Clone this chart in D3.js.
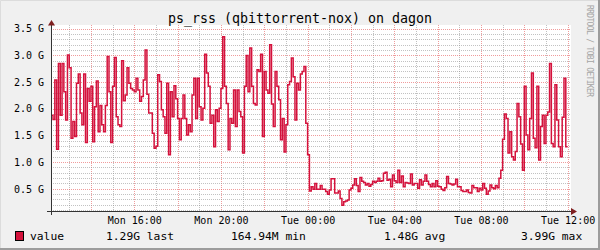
<!DOCTYPE html>
<html>
<head>
<meta charset="utf-8">
<script src="https://cdn.jsdelivr.net/npm/d3@7"></script>
<style>
  body { margin: 0; background: #f0f0f0; }
  svg { display: block; }
  text { font-family: "DejaVu Sans Mono", monospace; fill: #000; }
</style>
</head>
<body>
<svg id="chart" width="600" height="250"></svg>
<script>
// ---- data ----
const title = "ps_rss (qbittorrent-nox) on dagon";
const seriesName = "value";
const firstSample = new Date(2024, 0, 15, 12, 10); // Mon 12:10
const stepMinutes = 5;

// resident memory, in G, one value per 5 minutes
const values = [
  1.88, 1.80, 2.54, 1.24, 2.85, 1.88, 2.85, 2.32, 1.79, 3.01, 2.77, 1.45, 1.76, 1.48, 2.48,
  2.65, 1.92, 1.70, 2.65, 1.37, 2.38, 2.14, 2.42, 1.38, 2.04, 2.52, 1.57, 2.06, 1.70, 1.57,
  2.06, 2.98, 2.32, 1.37, 2.42, 2.96, 1.85, 1.70, 1.67, 2.90, 2.15, 2.26, 2.77, 2.48, 2.38,
  2.35, 2.32, 2.57, 2.35, 2.14, 2.23, 2.54, 3.10, 2.27, 1.92, 1.92, 1.54, 1.26,

  1.30, 2.64, 2.51, 1.98, 1.85, 1.54, 2.48, 1.14, 2.32, 1.85, 2.43, 2.19, 1.82, 1.42, 1.82,
  2.26, 1.82, 1.51, 1.70, 1.57, 2.26, 2.57, 1.82, 2.57, 2.04, 1.79, 2.01, 3.02, 2.67, 2.42,
  1.73, 1.88, 1.29, 1.98, 1.76, 2.01, 2.38, 3.35, 2.42, 2.10, 1.23, 1.82, 1.73, 2.35, 1.67,
  2.35, 1.95, 1.85, 1.17, 2.42, 3.00, 2.32, 3.14, 2.42, 2.10, 2.07, 2.73, 2.70,

  3.02, 1.48, 2.70, 2.35, 2.29, 3.20, 2.09, 1.67, 2.70, 2.42, 2.17, 1.42, 1.82, 1.19, 1.70,
  2.45, 2.51, 2.95, 2.60, 1.79, 2.48, 2.35, 2.65, 2.70, 2.79, 1.73, 1.14, 0.46, 0.54, 0.49,
  0.60, 0.49, 0.49, 0.56, 0.49, 0.49, 0.45, 0.40, 0.48, 0.69, 0.69, 0.42, 0.42, 0.46, 0.32,
  0.19, 0.26, 0.27, 0.29, 0.48, 0.51, 0.57, 0.69, 0.56, 0.45, 0.71, 0.64, 0.62,

  0.57, 0.60, 0.55, 0.58, 0.64, 0.62, 0.64, 0.70, 0.64, 0.65, 0.79, 0.81, 0.66, 0.68, 0.54,
  0.76, 0.65, 0.62, 0.85, 0.62, 0.74, 0.54, 0.62, 0.61, 0.60, 0.78, 0.57, 0.60, 0.60, 0.51,
  0.67, 0.57, 0.64, 0.76, 0.64, 0.58, 0.54, 0.60, 0.54, 0.65, 0.55, 0.54, 0.49, 0.47, 0.52,
  0.73, 0.60, 0.59, 0.57, 0.59, 0.68, 0.54, 0.54, 0.47, 0.45, 0.45, 0.48, 0.43,

  0.42, 0.56, 0.52, 0.52, 0.45, 0.51, 0.48, 0.60, 0.51, 0.40, 0.46, 0.57, 0.52, 0.50, 0.56,
  0.52, 0.70, 0.85, 1.43, 1.90, 1.82, 1.17, 1.57, 1.10, 1.04, 1.20, 2.10, 1.85, 1.34, 0.85,
  2.42, 1.51, 1.23, 1.82, 2.67, 1.45, 1.27, 2.42, 1.04, 1.67, 1.88, 1.35, 1.88, 1.94, 2.85,
  1.35, 1.29, 2.45, 1.79, 1.29, 1.10, 1.84, 2.57, 1.29
];

const yTicks = [0.5, 1.0, 1.5, 2.0, 2.5, 3.0, 3.5];
const legendStats = ["1.29G last", "164.94M min", "1.48G avg", "3.99G max"];
const watermark = "RRDTOOL / TOBI OETIKER";

// ---- layout ----
const W = 600, H = 250;
const L = 51, R = 571, T = 25, B = 211.5;
const lineColor = "#d4123c";
const minorColor = "rgba(143,143,143,0.55)";
const majorColor = "rgba(230,90,90,0.6)";

const svg = d3.select("#chart");

const start = new Date(2024, 0, 15, 12, 9, 24);
const end = d3.timeHour.offset(start, 24);
const x = d3.scaleTime().domain([start, end]).range([L, R]);
const y = d3.scaleLinear().domain([0.075, 3.57]).range([B, T]);

// background + frame
svg.append("rect").attr("width", W).attr("height", H).attr("fill", "#f0f0f0");
svg.append("path").attr("d", `M0.5,${H} V0.5 H${W}`).attr("stroke", "#dcdcdc").attr("fill", "none");
svg.append("path").attr("d", `M0,${H-1} H${W-1} V0`).attr("stroke", "#9c9c9c").attr("stroke-width", 2).attr("fill", "none");

// canvas
svg.append("rect").attr("x", L).attr("y", T).attr("width", R - L).attr("height", B - T).attr("fill", "#fff");

// grid
const grid = svg.append("g").attr("shape-rendering", "crispEdges").attr("stroke-dasharray", "1,1");
const hours = d3.timeHour.range(d3.timeHour.ceil(start), end);
grid.selectAll(".vg").data(hours).join("line")
  .attr("x1", d => Math.round(x(d)) + 0.5).attr("x2", d => Math.round(x(d)) + 0.5)
  .attr("y1", T).attr("y2", B)
  .attr("stroke", d => d.getHours() % 2 ? minorColor : majorColor);

const tenths = d3.range(1, 36);
grid.selectAll(".hg").data(tenths).join("line")
  .attr("x1", L).attr("x2", R)
  .attr("y1", d => Math.round(y(d / 10)) + 0.5).attr("y2", d => Math.round(y(d / 10)) + 0.5)
  .attr("stroke", d => d % 5 ? minorColor : majorColor);

// data line
const pts = values.map((v, i) => [d3.timeMinute.offset(firstSample, i * stepMinutes), v]);
pts.push([d3.timeMinute.offset(firstSample, values.length * stepMinutes), values[values.length - 1]]);
const line = d3.line().x(d => x(d[0])).y(d => y(d[1])).curve(d3.curveStepAfter);
svg.append("path").datum(pts).attr("d", line)
  .attr("fill", "none").attr("stroke", lineColor).attr("stroke-width", 1.5);

// axes labels
const xAxis = d3.axisBottom(x).ticks(d3.timeHour.every(4))
  .tickFormat(d3.timeFormat("%a %H:%M")).tickSize(0).tickPadding(5);
const gx = svg.append("g").attr("transform", `translate(0,${B})`).call(xAxis);
gx.select(".domain").remove();
gx.selectAll("text").attr("font-size", 10).attr("font-family", "DejaVu Sans Mono");

const yAxis = d3.axisLeft(y).tickValues(yTicks).tickFormat(d => d.toFixed(1) + " G").tickSize(0).tickPadding(7);
const gy = svg.append("g").attr("transform", `translate(${L},0)`).call(yAxis);
gy.select(".domain").remove();
gy.selectAll("text").attr("font-size", 10).attr("font-family", "DejaVu Sans Mono");

// axis lines + arrows
svg.append("line").attr("x1", 47).attr("x2", 572).attr("y1", B).attr("y2", B)
  .attr("stroke", "#333").attr("stroke-width", 1);
svg.append("line").attr("x1", L + 0.5).attr("x2", L + 0.5).attr("y1", 215).attr("y2", 24)
  .attr("stroke", "#333").attr("stroke-width", 1);
svg.append("path").attr("d", `M571,${B - 3.5} L577,${B} L571,${B + 3.5} Z`).attr("fill", "#7f1f1f");
svg.append("path").attr("d", `M${L - 3},25.5 L${L + 0.5},20 L${L + 4},25.5 Z`).attr("fill", "#7f1f1f");

// title
svg.append("text").attr("x", 300).attr("y", 23).attr("text-anchor", "middle")
  .attr("font-size", 13.3).text(title);

// watermark
svg.append("text").attr("transform", "translate(587,5) rotate(90)")
  .attr("font-size", 8).attr("textLength", 92).style("fill", "#a4a4a4").text(watermark);

// legend
svg.append("rect").attr("x", 15.5).attr("y", 231.5).attr("width", 8).attr("height", 9)
  .attr("fill", lineColor).attr("stroke", "#000");
svg.append("text").attr("x", 30).attr("y", 240).attr("font-size", 11.3).text(seriesName);
const legendX = [106, 231, 384, 521];
svg.selectAll(".stat").data(legendStats).join("text")
  .attr("x", (d, i) => legendX[i]).attr("y", 240).attr("font-size", 11.3).text(d => d);
</script>
</body>
</html>
